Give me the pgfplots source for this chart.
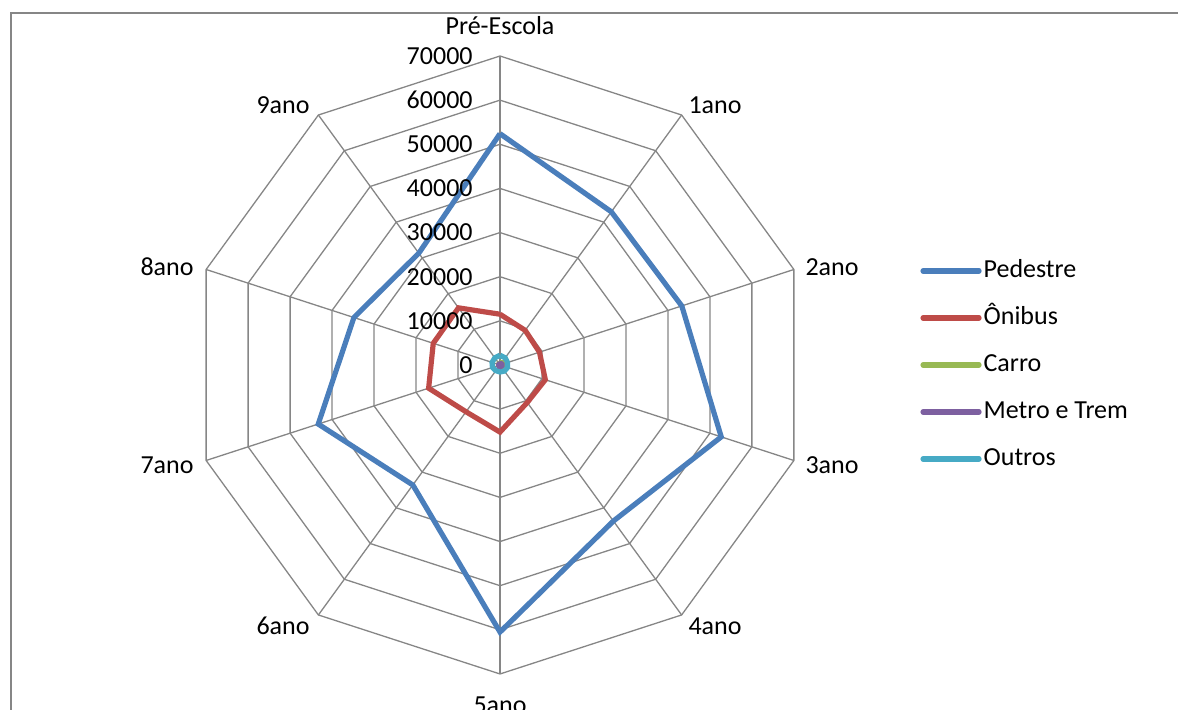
\documentclass[border=0pt]{standalone}
\usepackage{pgfplots}
\pgfplotsset{compat=1.18}
\usepackage{pgfplotstable}
\usepackage{fontspec}
\setmainfont{Carlito}

\definecolor{cPed}{HTML}{4A7EBB}
\definecolor{cOni}{HTML}{BE4B48}
\definecolor{cCar}{HTML}{98B954}
\definecolor{cMet}{HTML}{7D60A0}
\definecolor{cOut}{HTML}{46AAC5}
\definecolor{gridc}{HTML}{868686}

% angle (deg), values per series; last row repeats the first to close the polygon
\pgfplotstableread{
ang ped oni car met out
90 52400 11500 600 300 2200
54 42900 9700 700 400 2000
18 43300 9400 900 500 1800
-18 52700 10800 900 500 1800
-54 43700 10500 700 400 1700
-90 60500 15200 500 500 1600
-126 33600 13100 300 400 1600
-162 43300 17000 300 300 1800
-198 34800 15900 300 300 1900
-234 31300 16000 400 300 2000
-270 52400 11500 600 300 2200
}\radardata

\newcommand{\lbl}{\fontsize{13}{15}\selectfont}

\begin{document}
\begin{tikzpicture}
\begin{axis}[
  scale only axis, width=589pt, height=355pt,
  xmin=-113275, xmax=153600, ymin=-78160, ymax=82690,
  hide axis, clip=false,
  legend style={at={(0.781,0.486)}, anchor=west, draw=none, fill=none,
    inner sep=0pt, font=\lbl, row sep=11.5pt,
    nodes={inner xsep=1pt, inner ysep=0pt, text height=9.5pt, text depth=2.5pt}},
  legend cell align=left,
  legend image code/.code={\draw[#1, line width=2.6pt, line cap=round] (0pt,0pt) -- (28pt,0pt);},
]
\coordinate (bl) at (rel axis cs:0,0);
\coordinate (tr) at (rel axis cs:1,1);
% frame
\draw[gridc, line width=1pt] (rel axis cs:0.00934,-0.2) -- (rel axis cs:0.00934,0.9817) -- (rel axis cs:1.2,0.9817);
% rings
\pgfplotsinvokeforeach{10000,20000,30000,40000,50000,60000,70000}{
  \addplot[gridc, line width=0.65pt, data cs=polar, forget plot] coordinates {(90,#1) (54,#1) (18,#1) (-18,#1) (-54,#1) (-90,#1) (-126,#1) (-162,#1) (-198,#1) (-234,#1) (-270,#1)};
}
% spokes
\pgfplotsinvokeforeach{90,54,18,-18,-54,-90,-126,-162,-198,-234}{
  \addplot[gridc, line width=0.65pt, data cs=polar, forget plot] coordinates {(#1,0) (#1,70000)};
}
% series
\addplot[cPed, line width=2.6pt, data cs=polar] table[x=ang, y=ped]{\radardata};
\addplot[cOni, line width=2.6pt, data cs=polar] table[x=ang, y=oni]{\radardata};
\addplot[cCar, line width=2.6pt, data cs=polar] table[x=ang, y=car]{\radardata};
\addplot[cMet, line width=2.6pt, data cs=polar] table[x=ang, y=met]{\radardata};
\addplot[cOut, line width=2.6pt, data cs=polar] table[x=ang, y=out]{\radardata};
\legend{Pedestre, Ônibus, Carro, Metro e Trem, Outros}
% radial tick labels
\pgfplotsinvokeforeach{0,10000,20000,30000,40000,50000,60000,70000}{
  \node[anchor=east, inner sep=0pt, font=\lbl] at (axis cs:-6117,#1) {#1};
}
% category labels
\node[font=\lbl] at (axis cs:0,76800) {Pré-Escola};
\node[font=\lbl] at (axis cs:48710,58900) {1ano};
\node[font=\lbl] at (axis cs:75215,22200) {2ano};
\node[font=\lbl] at (axis cs:75215,-22655) {3ano};
\node[font=\lbl] at (axis cs:48710,-59130) {4ano};
\node[font=\lbl] at (axis cs:0,-77030) {5ano};
\node[font=\lbl] at (axis cs:-49160,-59130) {6ano};
\node[font=\lbl] at (axis cs:-75440,-22655) {7ano};
\node[font=\lbl] at (axis cs:-75440,22200) {8ano};
\node[font=\lbl] at (axis cs:-49160,58900) {9ano};
\end{axis}
\pgfresetboundingbox
\path[use as bounding box] (bl) rectangle (tr);
\end{tikzpicture}
\end{document}
